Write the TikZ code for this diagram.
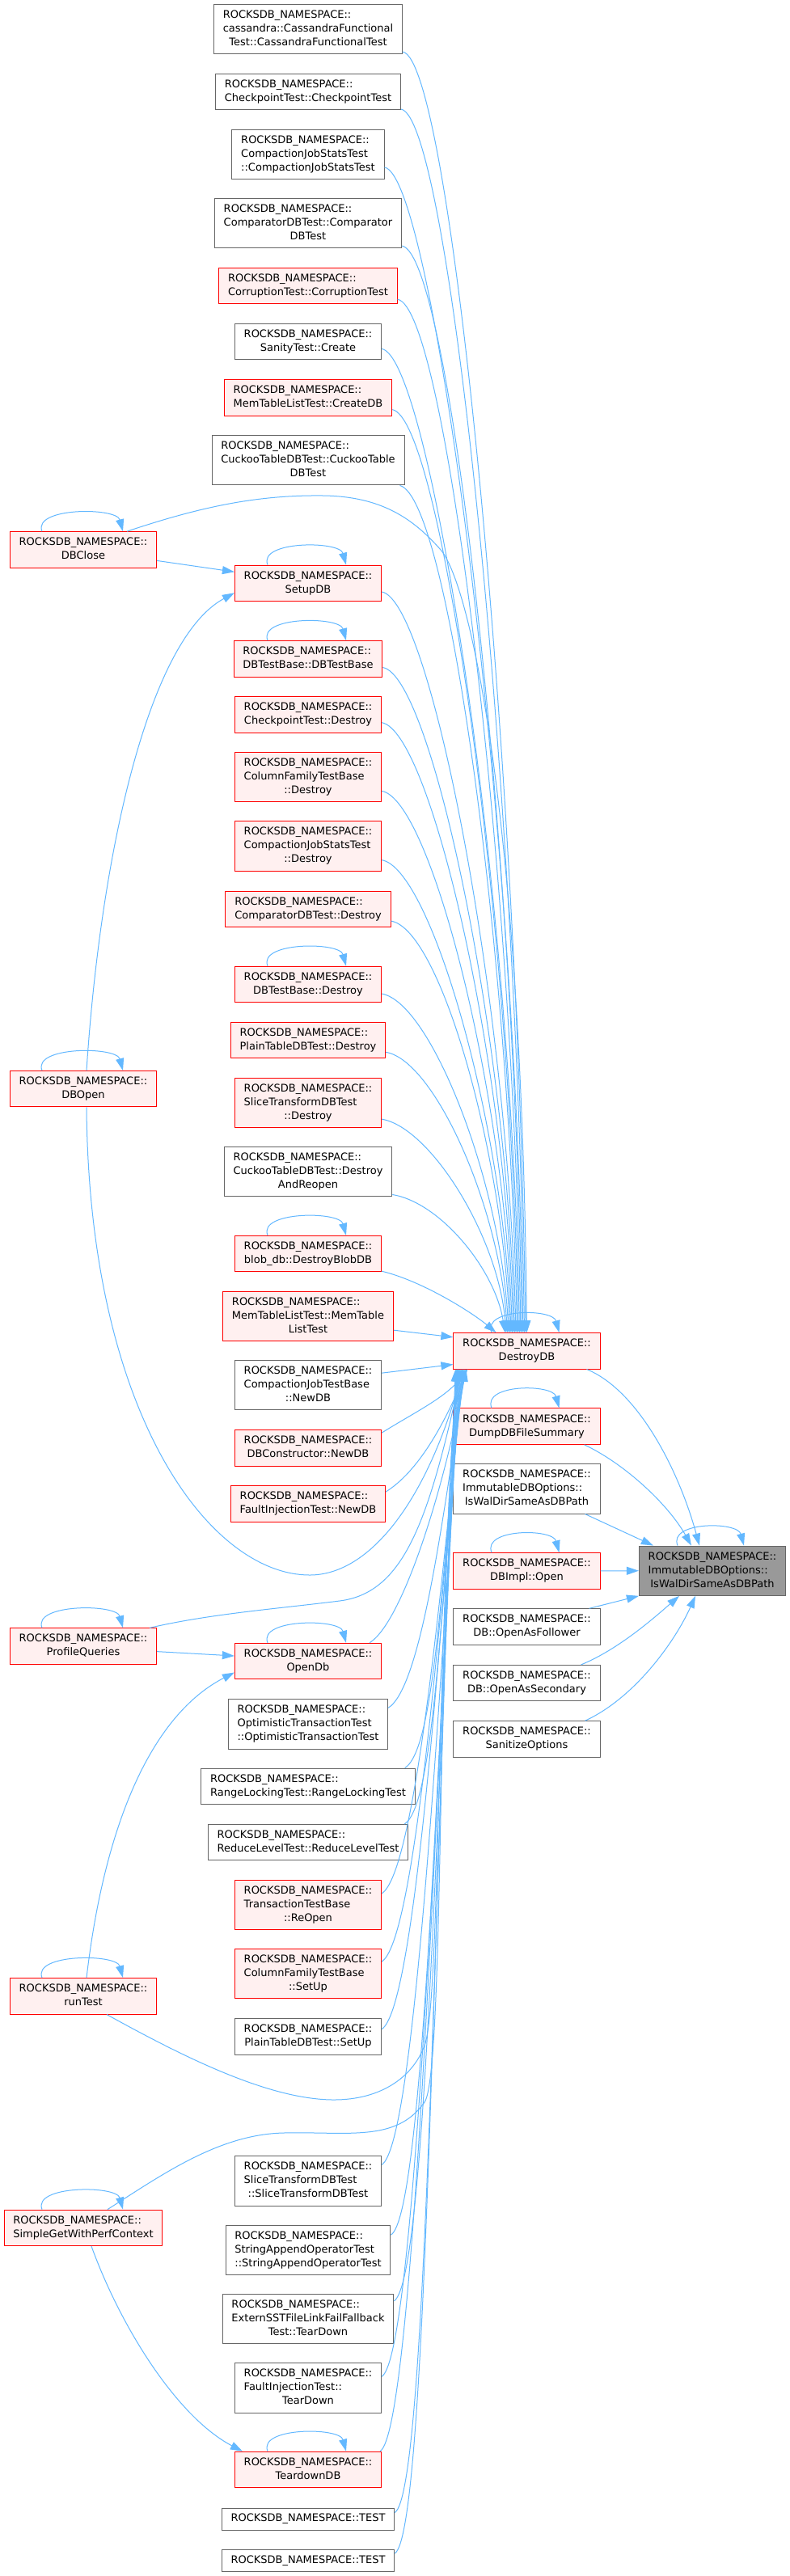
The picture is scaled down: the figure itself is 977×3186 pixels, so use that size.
\documentclass[tikz,border=0pt]{standalone}
\usepackage{fontspec}
\setmainfont{DejaVu Sans}
\usetikzlibrary{arrows.meta,calc}
\definecolor{ebl}{HTML}{63B8FF}
\definecolor{rfill}{HTML}{FFF0F0}
\definecolor{rdraw}{HTML}{FF0000}
\definecolor{gdraw}{HTML}{666666}
\definecolor{tfill}{HTML}{999999}
\newcommand\RNS{ROCKSDB\_NAMESPACE::}
\newcommand\nlab[2]{\begin{tabular}{@{}l@{}}#1\\\multicolumn{1}{@{}c@{}}{#2}\end{tabular}}
\newcommand\onel[1]{\begin{tabular}{@{}c@{}}#1\end{tabular}}
\tikzset{
 nd/.style={draw, line width=1pt, inner xsep=11.3pt, inner ysep=0pt, font=\fontsize{13}{17}\selectfont, text=black},
 wb/.style={nd, draw=gdraw, fill=white},
 rb/.style={nd, draw=rdraw, fill=rfill},
 gb/.style={nd, draw=gdraw, fill=tfill},
 ha/.style={minimum height=27pt},
 hb/.style={minimum height=44.4pt},
 hc/.style={minimum height=61.3pt},
 calls/.style={draw=ebl, line width=1pt, -{Triangle[length=15pt,width=10pt]}},
}
\newcommand\myloop[3]{\draw[calls] ($(#1.north)+(#2,0)$) .. controls +(-12,30) and +(-8,30) .. ($(#1.north)+(#3,0)$);}
\begin{document}
\begin{tikzpicture}[x=1pt,y=1pt]
\fill[white] (0,0) rectangle (977,-3186);
\useasboundingbox (0,0) rectangle (977,-3186);
% middle column
\node[wb,hc] (cass) at (381,-35.9) {\nlab{\RNS\\cassandra::CassandraFunctional}{Test::CassandraFunctionalTest}};
\node[wb,hb] (cpt) at (381,-113.3) {\nlab{\RNS}{CheckpointTest::CheckpointTest}};
\node[wb,hc] (cjst) at (381,-190.8) {\nlab{\RNS\\CompactionJobStatsTest}{::CompactionJobStatsTest}};
\node[wb,hc] (cmpt) at (381,-275.9) {\nlab{\RNS\\ComparatorDBTest::Comparator}{DBTest}};
\node[rb,hb] (corr) at (381,-353.5) {\nlab{\RNS}{CorruptionTest::CorruptionTest}};
\node[wb,hb] (sanity) at (381,-422.7) {\nlab{\RNS}{SanityTest::Create}};
\node[rb,hb] (mtcreate) at (381,-491.9) {\nlab{\RNS}{MemTableListTest::CreateDB}};
\node[wb,hc] (cuckoo) at (381,-569.3) {\nlab{\RNS\\CuckooTableDBTest::CuckooTable}{DBTest}};
\node[rb,hb] (setup) at (381,-721.3) {\nlab{\RNS}{SetupDB}};
\node[rb,hb] (dbtb) at (381,-814.8) {\nlab{\RNS}{DBTestBase::DBTestBase}};
\node[rb,hb] (cpd) at (381,-884) {\nlab{\RNS}{CheckpointTest::Destroy}};
\node[rb,hc] (cfd) at (381,-961.2) {\nlab{\RNS\\ColumnFamilyTestBase}{::Destroy}};
\node[rb,hc] (cjsd) at (381,-1046.5) {\nlab{\RNS\\CompactionJobStatsTest}{::Destroy}};
\node[rb,hb] (cmpd) at (381,-1124.4) {\nlab{\RNS}{ComparatorDBTest::Destroy}};
\node[rb,hb] (dbtbd) at (381,-1217.4) {\nlab{\RNS}{DBTestBase::Destroy}};
\node[rb,hb] (ptd) at (381,-1286.6) {\nlab{\RNS}{PlainTableDBTest::Destroy}};
\node[rb,hc] (std) at (381,-1364) {\nlab{\RNS\\SliceTransformDBTest}{::Destroy}};
\node[wb,hc] (dar) at (381,-1449.3) {\nlab{\RNS\\CuckooTableDBTest::Destroy}{AndReopen}};
\node[rb,hb] (blob) at (381,-1550.5) {\nlab{\RNS}{blob\_db::DestroyBlobDB}};
\node[rb,hc] (mtlt) at (381,-1628) {\nlab{\RNS\\MemTableListTest::MemTable}{ListTest}};
\node[wb,hc] (cjtb) at (381,-1713.3) {\nlab{\RNS\\CompactionJobTestBase}{::NewDB}};
\node[rb,hb] (dbc) at (381,-1790.8) {\nlab{\RNS}{DBConstructor::NewDB}};
\node[rb,hb] (fin) at (381,-1859.8) {\nlab{\RNS}{FaultInjectionTest::NewDB}};
\node[rb,hb] (opendb) at (381,-2054.5) {\nlab{\RNS}{OpenDb}};
\node[wb,hc] (opt) at (381,-2132.4) {\nlab{\RNS\\OptimisticTransactionTest}{::OptimisticTransactionTest}};
\node[wb,hb] (rlt) at (381,-2209.3) {\nlab{\RNS}{RangeLockingTest::RangeLockingTest}};
\node[wb,hb] (rlv) at (381,-2278.7) {\nlab{\RNS}{ReduceLevelTest::ReduceLevelTest}};
\node[rb,hc] (reopen) at (381,-2356) {\nlab{\RNS\\TransactionTestBase}{::ReOpen}};
\node[rb,hc] (cfsu) at (381,-2441.3) {\nlab{\RNS\\ColumnFamilyTestBase}{::SetUp}};
\node[wb,hb] (ptsu) at (381,-2518.8) {\nlab{\RNS}{PlainTableDBTest::SetUp}};
\node[wb,hc] (stt) at (381,-2697.5) {\nlab{\RNS\\SliceTransformDBTest}{::SliceTransformDBTest}};
\node[wb,hc] (sao) at (381,-2782.8) {\nlab{\RNS\\StringAppendOperatorTest}{::StringAppendOperatorTest}};
\node[wb,hc] (esst) at (381,-2868) {\nlab{\RNS\\ExternSSTFileLinkFailFallback}{Test::TearDown}};
\node[wb,hc] (fitd) at (381,-2953.5) {\nlab{\RNS\\FaultInjectionTest::}{TearDown}};
\node[rb,hb] (tddb) at (381,-3054.4) {\nlab{\RNS}{TeardownDB}};
\node[wb,ha] (test1) at (381,-3115.5) {\onel{ROCKSDB\_NAMESPACE::TEST}};
\node[wb,ha] (test2) at (381,-3167) {\onel{ROCKSDB\_NAMESPACE::TEST}};
% left column
\node[rb,hb] (dbclose) at (103,-679.9) {\nlab{\RNS}{DBClose}};
\node[rb,hb] (dbopen) at (103,-1346.7) {\nlab{\RNS}{DBOpen}};
\node[rb,hb] (pq) at (103,-2036) {\nlab{\RNS}{ProfileQueries}};
\node[rb,hb] (runtest) at (103,-2468.8) {\nlab{\RNS}{runTest}};
\node[rb,hb] (sgp) at (103,-2755.3) {\nlab{\RNS}{SimpleGetWithPerfContext}};
% right column
\node[rb,hb] (ddb) at (651.5,-1670.8) {\nlab{\RNS}{DestroyDB}};
\node[rb,hb] (dump) at (651.5,-1764.1) {\nlab{\RNS}{DumpDBFileSummary}};
\node[wb,hc] (iwd2) at (651.5,-1841.4) {\nlab{\RNS\\ImmutableDBOptions::}{IsWalDirSameAsDBPath}};
\node[rb,hb] (dbimpl) at (651.5,-1942.9) {\nlab{\RNS}{DBImpl::Open}};
\node[wb,hb] (follower) at (651.5,-2012) {\nlab{\RNS}{DB::OpenAsFollower}};
\node[wb,hb] (secondary) at (651.5,-2081.6) {\nlab{\RNS}{DB::OpenAsSecondary}};
\node[wb,hb] (sanitize) at (651.5,-2150.9) {\nlab{\RNS}{SanitizeOptions}};
% target
\node[gb,hc] (tgt) at (881,-1942.7) {\nlab{\RNS\\ImmutableDBOptions::}{IsWalDirSameAsDBPath}};

% self loops
\myloop{setup}{-50}{47}
\myloop{dbtb}{-50}{47}
\myloop{dbtbd}{-50}{47}
\myloop{blob}{-50}{47}
\myloop{opendb}{-50}{47}
\myloop{tddb}{-50}{47}
\myloop{dbclose}{-51}{49}
\myloop{dbopen}{-51}{49}
\myloop{pq}{-51}{49}
\myloop{runtest}{-51}{49}
\myloop{sgp}{-51}{49}
\myloop{ddb}{-43.5}{40}
\myloop{dump}{-43.5}{40}
\myloop{dbimpl}{-43.5}{40}
\myloop{tgt}{-43}{39}

% upper callers -> DestroyDB
\draw[calls] ($(cass.south east)+(0,3)$) .. controls +(60,-10) and +(-10,713) .. ($(ddb.north)+(-1.5,0)$);
\draw[calls] ($(cpt.south east)+(0,1)$) .. controls +(60,-10) and +(-10,681) .. ($(ddb.north)+(-3,0)$);
\draw[calls] ($(cjst.south east)+(0,15)$) .. controls +(60,-10) and +(-10,649) .. ($(ddb.north)+(-4.5,0)$);
\draw[calls] ($(cmpt.south east)+(0,3)$) .. controls +(60,-10) and +(-10,605) .. ($(ddb.north)+(-6,0)$);
\draw[calls] ($(corr.south east)+(0,6)$) .. controls +(60,-10) and +(-10,575) .. ($(ddb.north)+(-7.5,0)$);
\draw[calls] ($(sanity.south east)+(0,14)$) .. controls +(60,-10) and +(-10,548) .. ($(ddb.north)+(-9,0)$);
\draw[calls] ($(mtcreate.south east)+(0,8)$) .. controls +(60,-10) and +(-10,514) .. ($(ddb.north)+(-10.5,0)$);
\draw[calls] ($(cuckoo.south east)+(-6,0)$) .. controls +(60,-15) and +(-10,472) .. ($(ddb.north)+(-12,0)$);
\draw[calls] ($(setup.south east)+(0,12)$) .. controls +(60,-10) and +(-10,412) .. ($(ddb.north)+(-13.5,0)$);
\draw[calls] ($(dbtb.south east)+(0,12)$) .. controls +(60,-10) and +(-10,370) .. ($(ddb.north)+(-15,0)$);
\draw[calls] ($(cpd.south east)+(0,13)$) .. controls +(60,-10) and +(-10,340) .. ($(ddb.north)+(-16.5,0)$);
\draw[calls] ($(cfd.south east)+(0,14)$) .. controls +(60,-10) and +(-10,302) .. ($(ddb.north)+(-18,0)$);
\draw[calls] ($(cjsd.south east)+(0,14)$) .. controls +(60,-10) and +(-10,263) .. ($(ddb.north)+(-19.5,0)$);
\draw[calls] ($(cmpd.south east)+(0,8)$) .. controls +(60,-10) and +(-10,229) .. ($(ddb.north)+(-21,0)$);
\draw[calls] ($(dbtbd.south east)+(0,11)$) .. controls +(60,-10) and +(-10,189) .. ($(ddb.north)+(-22.5,0)$);
\draw[calls] ($(ptd.south east)+(0,8)$) .. controls +(60,-10) and +(-10,156) .. ($(ddb.north)+(-24,0)$);
\draw[calls] ($(std.south east)+(0,11)$) .. controls +(60,-10) and +(-10,119) .. ($(ddb.north)+(-25.5,0)$);
\draw[calls] ($(dar.south east)+(0,3)$) .. controls +(60,-10) and +(-12,77) .. ($(ddb.north)+(-27,0)$);
\draw[calls] ($(blob.south east)+(0,1)$) .. controls +(50,-12) and +(-30,25) .. ($(ddb.north)+(-38,0)$);
\draw[calls] ($(mtlt.south east)+(0,14)$) -- ($(ddb.west)+(0,17)$);
\draw[calls] ($(cjtb.north east)+(0,-16)$) -- ($(ddb.west)+(0,-16.7)$);
% lower callers -> DestroyDB
\draw[calls] ($(dbc.north east)+(0,-4)$) .. controls +(40,25) and +(-28,-35.5) .. ($(ddb.south west)+(18,0)$);
\draw[calls] ($(fin.north east)+(0,-8)$) .. controls +(40,25) and +(-28,-68) .. ($(ddb.south west)+(17,0)$);
\draw[calls] ($(opendb.north east)+(-15,0)$) .. controls +(40,25) and +(-28,-152) .. ($(ddb.south west)+(16,0)$);
\draw[calls] ($(opt.north east)+(0,-11)$) .. controls +(40,25) and +(-28,-189) .. ($(ddb.south west)+(15,0)$);
\draw[calls] ($(rlt.north east)+(-13,0)$) .. controls +(40,25) and +(-28,-222) .. ($(ddb.south west)+(14,0)$);
\draw[calls] ($(rlv.north east)+(-5,0)$) .. controls +(40,25) and +(-28,-253) .. ($(ddb.south west)+(13,0)$);
\draw[calls] ($(reopen.north east)+(0,-17)$) .. controls +(40,25) and +(-28,-292) .. ($(ddb.south west)+(12,0)$);
\draw[calls] ($(cfsu.north east)+(0,-16)$) .. controls +(40,25) and +(-28,-330) .. ($(ddb.south west)+(11,0)$);
\draw[calls] ($(ptsu.north east)+(0,-13.5)$) .. controls +(40,25) and +(-28,-367) .. ($(ddb.south west)+(10,0)$);
\draw[calls] ($(stt.north east)+(0,-11)$) .. controls +(40,25) and +(-28,-443) .. ($(ddb.south west)+(9,0)$);
\draw[calls] ($(sao.north east)+(0,-12.5)$) .. controls +(40,25) and +(-28,-482) .. ($(ddb.south west)+(8,0)$);
\draw[calls] ($(esst.north east)+(0,-9)$) .. controls +(40,25) and +(-28,-519) .. ($(ddb.south west)+(7,0)$);
\draw[calls] ($(fitd.north east)+(0,-17)$) .. controls +(40,25) and +(-28,-561) .. ($(ddb.south west)+(6,0)$);
\draw[calls] ($(tddb.north east)+(-2,0)$) .. controls +(40,25) and +(-28,-602) .. ($(ddb.south west)+(5,0)$);
\draw[calls] ($(test1.north east)+(0,-6)$) .. controls +(40,25) and +(-28,-637) .. ($(ddb.south west)+(4,0)$);
\draw[calls] ($(test2.north east)+(0,-5)$) .. controls +(40,25) and +(-28,-659) .. ($(ddb.south west)+(3,0)$);
% left column edges
\draw[calls] ($(dbclose.east)+(0,-13.5)$) -- ($(setup.west)+(0,14)$);
\draw[calls] ($(dbclose.north east)+(-37,0)$) .. controls (250,-626) and (320,-612) .. (400,-613) .. controls (470,-614) and (510,-640) .. (545,-680) .. controls (580,-720) and (645,-1000) .. (ddb.north);
\draw[calls] ($(dbopen.north)+(4,0)$) .. controls (125,-1050) and (185,-790) .. ($(setup.west)+(0,-12)$);
\draw[calls] ($(dbopen.south)+(4,0)$) .. controls (110,-1750) and (260,-1948) .. (383,-1948) .. controls (460,-1948) and (530,-1850) .. ($(ddb.south west)+(12,0)$);
\draw[calls] ($(pq.north east)+(-9,0)$) .. controls (260,-1996) and (340,-1990) .. (420,-1980) .. controls (500,-1970) and (530,-1880) .. ($(ddb.south west)+(11,0)$);
\draw[calls] ($(pq.east)+(0,-6.6)$) -- ($(opendb.west)+(0,6.5)$);
\draw[calls] ($(runtest.north)+(4,0)$) .. controls (130,-2250) and (190,-2120) .. ($(opendb.west)+(0,-14)$);
\draw[calls] ($(runtest.south)+(29,0)$) .. controls (220,-2540) and (330,-2597) .. (413,-2597) .. controls (470,-2597) and (510,-2570) .. (525,-2530) .. controls (545,-2480) and (540,-2000) .. ($(ddb.south west)+(6,0)$);
\draw[calls] ($(sgp.north)+(30,0)$) .. controls (200,-2690) and (270,-2640) .. (350,-2638) .. controls (430,-2636) and (490,-2650) .. (525,-2600) .. controls (550,-2564) and (540,-2000) .. ($(ddb.south west)+(5,0)$);
\draw[calls] ($(sgp.south)+(10,0)$) .. controls (150,-2880) and (220,-2990) .. ($(tddb.north west)+(10,0)$);
% right column -> target
\draw[calls] ($(ddb.south east)+(-17,0)$) .. controls (790,-1720) and (840,-1820) .. ($(tgt.north)+(-16,0)$);
\draw[calls] ($(dump.south east)+(-20,0)$) .. controls (772,-1810) and (826,-1860) .. ($(tgt.north)+(-26,0)$);
\draw[calls] ($(iwd2.south east)+(-19,0)$) -- ($(tgt.north west)+(18,0)$);
\draw[calls] (dbimpl.east) -- (tgt.west);
\draw[calls] ($(follower.north east)+(-14,0)$) -- (tgt.south west);
\draw[calls] ($(secondary.north east)+(-24,0)$) .. controls (765,-2040) and (810,-2000) .. ($(tgt.south)+(-41,0)$);
\draw[calls] ($(sanitize.north east)+(-19,0)$) .. controls (785,-2100) and (835,-2030) .. ($(tgt.south)+(-21,0)$);
\end{tikzpicture}
\end{document}
